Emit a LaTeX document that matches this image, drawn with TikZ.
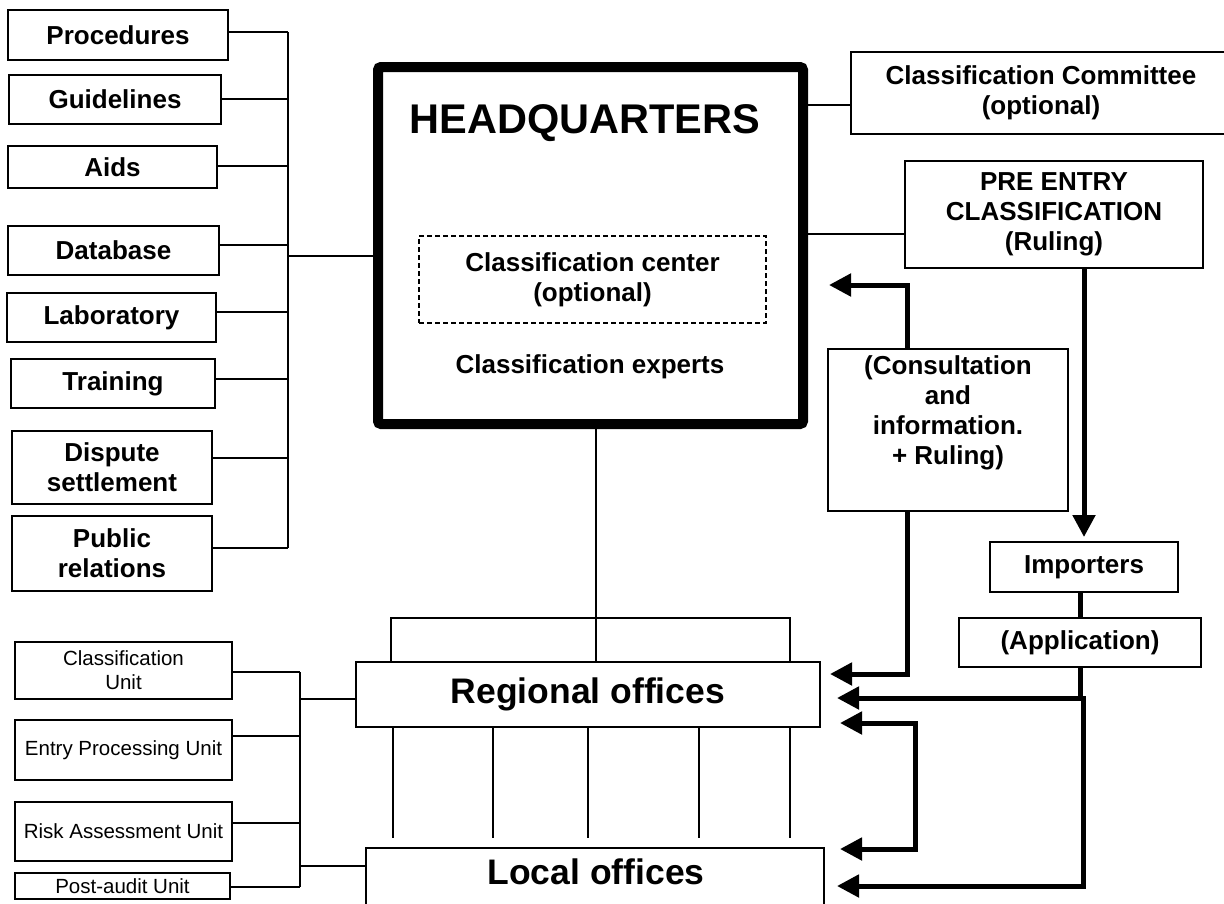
\documentclass[tikz,border=0pt]{standalone}
\usepackage{fontspec}
\setmainfont{Liberation Sans}
\usepackage{tikz}
\usetikzlibrary{arrows.meta}

\begin{document}
\begin{tikzpicture}[x=1pt, y=-1pt, >={Triangle[length=22pt, width=22pt]},
    every node/.style={inner sep=0pt, outer sep=0pt, align=center},
    box/.style={draw, rectangle, line width=1.3pt, anchor=north west, font=\bfseries\fontsize{26}{30}\selectfont},
    unitbox/.style={box, font=\fontsize{20.5}{24}\selectfont},
    link/.style={line width=1.3pt},
    fat/.style={line width=5pt},
    fatarrow/.style={fat, ->}]
    \useasboundingbox (0,0) rectangle (1224,903);

    % left column: support functions
    \node (proc) [box, minimum width=220pt, minimum height=50pt] at (8,10) {Procedures};
    \node (guide) [box, minimum width=212pt, minimum height=49pt] at (9,75) {Guidelines};
    \node (aids) [box, minimum width=209pt, minimum height=42pt] at (8,146) {Aids};
    \node (db) [box, minimum width=211pt, minimum height=49pt] at (8,226) {Database};
    \node (lab) [box, minimum width=209pt, minimum height=49pt] at (7,293) {Laboratory};
    \node (train) [box, minimum width=204pt, minimum height=49pt] at (11,359) {Training};
    \node (disp) [box, minimum width=200pt, minimum height=73pt] at (12,431) {Dispute\\settlement};
    \node (pub) [box, minimum width=200pt, minimum height=75pt] at (12,516) {Public\\relations};

    % headquarters
    \node (hq) [draw, line width=10pt, rounded corners=3pt, anchor=north west, minimum width=425pt, minimum height=357pt] at (378,67) {};
    \node (hqtitle) [font=\bfseries\fontsize{41.5}{48}\selectfont] at (585,123) {HEADQUARTERS};
    \node (ctr) [box, dashed, dash pattern=on 5pt off 3pt, minimum width=347pt, minimum height=87pt] at (419,236) {Classification center\\(optional)};
    \node (experts) [font=\bfseries\fontsize{26}{30}\selectfont] at (590,367) {Classification experts};

    % right side
    \node (comm) [box, minimum width=380pt, minimum height=82pt] at (851,52) {Classification Committee\\(optional)};
    \node (pre) [box, minimum width=298pt, minimum height=107pt] at (905,161) {PRE ENTRY\\CLASSIFICATION\\(Ruling)};
    \node (cons) [box, minimum width=240pt, minimum height=162pt] at (828,349) {(Consultation\\and\\information.\\+ Ruling)\\ \strut};
    \node (imp) [box, minimum width=188pt, minimum height=50pt] at (990,542) {Importers};
    \node (app) [box, minimum width=242pt, minimum height=49pt] at (959,618) {(Application)};

    % offices
    \node (reg) [box, minimum width=464pt, minimum height=65pt, font=\bfseries\fontsize{35.5}{40}\selectfont] at (356,662) {Regional offices};
    \node (loc) [box, minimum width=458pt, minimum height=80pt] at (366,848) {};
    \node (loctxt) [font=\bfseries\fontsize{35.5}{40}\selectfont] at (596,872) {Local offices};

    % bottom left: units
    \node (cu) [unitbox, minimum width=217pt, minimum height=57pt] at (15,642) {Classification\\Unit};
    \node (epu) [unitbox, minimum width=217pt, minimum height=60pt] at (15,720) {Entry Processing Unit};
    \node (rau) [unitbox, minimum width=217pt, minimum height=59pt] at (15,802) {Risk Assessment Unit};
    \node (pau) [unitbox, minimum width=215pt, minimum height=26pt] at (15,873) {Post-audit Unit};

    % connectors, left bracket
    \coordinate (lbus) at (288,32);
    \foreach \n/\y in {proc/32,guide/99,aids/166,db/245,lab/312,train/379,disp/458,pub/548}
        \draw[link] (\n.east |- 0,\y) -- (lbus |- 0,\y);
    \draw[link] (lbus) -- (lbus |- 0,548);
    \draw[link] (lbus |- 0,256) -- (hq.west |- 0,256);

    % connectors, right of headquarters
    \draw[link] (hq.east |- 0,105) -- (comm.west |- 0,105);
    \draw[link] (hq.east |- 0,234) -- (pre.west |- 0,234);

    % headquarters to regional offices
    \coordinate (rbar) at (596,618);
    \draw[link] (hq.south -| rbar) -- (reg.north -| rbar);
    \draw[link] ([xshift=35pt]reg.north west) |- (rbar) -| ([xshift=-30pt]reg.north east);
    \foreach \x in {393,493,588,699,790}
        \draw[link] (reg.south -| \x,0) -- (\x,838);

    % units bracket
    \coordinate (ubus) at (300,672);
    \foreach \n/\y in {cu/672,epu/736,rau/823,pau/887}
        \draw[link] (\n.east |- 0,\y) -- (ubus |- 0,\y);
    \draw[link] (ubus) -- (ubus |- 0,887);
    \draw[link] (ubus |- 0,699) -- (reg.west |- 0,699);
    \draw[link] (ubus |- 0,866) -- (loc.west |- 0,866);

    % thick flows
    \draw[fatarrow, shorten >=5pt] (imp.north |- pre.south) -- (imp.north);
    \draw[fat] (app.north |- imp.south) -- (app.north);
    \coordinate (appjoin) at (1083,698);
    \draw[fat] (app.south) -- (app.south |- appjoin);
    \draw[fat, <->, shorten <=17pt, shorten >=13pt] (reg.east |- appjoin) -| (appjoin |- 0,886) -- (loc.east |- 0,886);
    \draw[fatarrow, shorten >=26pt] ([xshift=-41pt]cons.north) |- (hq.east |- 0,285);
    \draw[fatarrow, shorten >=10pt] ([xshift=-41pt]cons.south) |- (reg.east |- 0,674);
    \draw[fat, <->, shorten <=20pt, shorten >=16pt] (reg.east |- 0,723) -| (915,786) |- (loc.east |- 0,849);
\end{tikzpicture}
\end{document}
